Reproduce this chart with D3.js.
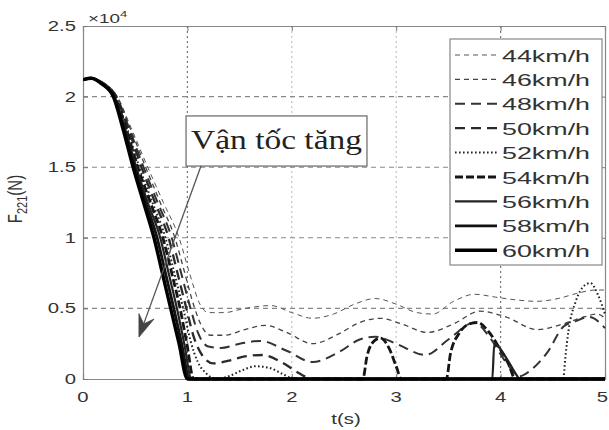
<!DOCTYPE html>
<html>
<head>
<meta charset="utf-8">
<script src="https://cdn.jsdelivr.net/npm/d3@7"></script>
<style>
  html, body { margin: 0; padding: 0; background: #fff; }
  svg { display: block; }
</style>
</head>
<body>
<svg id="chart" width="609" height="430"></svg>
<script>
// ---------------- DATA (values in N, t in s) ----------------
const legendLabels = ["44km/h","46km/h","48km/h","50km/h","52km/h","54km/h","56km/h","58km/h","60km/h"];
const xTicks = [0, 1, 2, 3, 4, 5];
const yTicks = [0, 5000, 10000, 15000, 20000, 25000];
const yTickLabels = ["0", "0.5", "1", "1.5", "2", "2.5"];

const s44 = [[0,21200],[0.08,21300],[0.18,21060],[0.33,20000],[0.46,17800],[0.62,15000],[0.77,12500],[0.92,10000],[1.02,7500],[1.12,5300],[1.2,4700],[1.35,4700],[1.55,5000],[1.8,5200],[2.0,4700],[2.2,4300],[2.4,4600],[2.6,5300],[2.8,5700],[3.0,5300],[3.2,4700],[3.35,4600],[3.55,5500],[3.75,6000],[3.95,5800],[4.15,5600],[4.35,5500],[4.55,5700],[4.75,6100],[4.9,6300],[5.0,6300]];
const s46 = [[0,21200],[0.08,21300],[0.18,21040],[0.325,20000],[0.45,17800],[0.6,15000],[0.74,12500],[0.88,10000],[0.975,7500],[1.07,5000],[1.14,3700],[1.22,3100],[1.35,3100],[1.55,3500],[1.75,3800],[1.95,3300],[2.2,2500],[2.45,3200],[2.65,4000],[2.85,4300],[3.05,3900],[3.3,3300],[3.55,3900],[3.8,4800],[4.05,4400],[4.35,3500],[4.6,3900],[4.8,4400],[4.93,4600],[5.0,4300]];
const s48 = [[0,21200],[0.08,21300],[0.18,21020],[0.32,20000],[0.44,17800],[0.58,15000],[0.715,12500],[0.85,10000],[0.94,7500],[1.03,5000],[1.1,3300],[1.2,2300],[1.32,2200],[1.5,2500],[1.7,2700],[1.95,2000],[2.2,1200],[2.45,1900],[2.65,2800],[2.8,3000],[3.0,2500],[3.28,1700],[3.5,2800],[3.75,4000],[3.9,2900],[4.05,1200],[4.18,200],[4.3,700],[4.45,1900],[4.6,3700],[4.72,4100],[4.85,4400],[5.0,3600]];
const s50 = [[0,21200],[0.08,21300],[0.18,21000],[0.315,20000],[0.43,17800],[0.56,15000],[0.69,12500],[0.82,10000],[0.905,7500],[0.99,5000],[1.06,3000],[1.14,1700],[1.25,1100],[1.4,1300],[1.55,1600],[1.72,1700],[1.9,1200],[2.05,500],[2.15,100],[2.2,0],[5.0,0]];
const s52 = [[0,21200],[0.08,21300],[0.18,20980],[0.31,20000],[0.42,17800],[0.54,15000],[0.665,12500],[0.79,10000],[0.875,7500],[0.96,5000],[1.03,2700],[1.1,1200],[1.18,400],[1.28,0],[1.4,200],[1.52,600],[1.65,900],[1.78,800],[1.9,400],[2.0,50],[2.05,0],[4.6,0],[4.62,1500],[4.65,3400],[4.72,5500],[4.8,6600],[4.86,6800],[4.93,6000],[5.0,4600]];
const s54 = [[0,21200],[0.08,21300],[0.18,20960],[0.305,20000],[0.41,17800],[0.525,15000],[0.645,12500],[0.765,10000],[0.85,7500],[0.93,5000],[0.995,2500],[1.06,0],[2.68,0],[2.72,1600],[2.79,2700],[2.85,2900],[2.93,2200],[3.0,900],[3.05,0],[3.48,0],[3.52,1800],[3.6,3200],[3.7,3900],[3.78,4000],[3.88,3400],[3.98,2300],[4.08,1000],[4.14,0],[5.0,0]];
const s56 = [[0,21200],[0.08,21300],[0.18,20940],[0.30,20000],[0.40,17800],[0.51,15000],[0.62,12500],[0.74,10000],[0.82,7500],[0.90,5000],[0.97,2500],[1.04,0],[3.92,0],[3.94,2500],[3.99,2200],[4.07,1300],[4.16,200],[4.18,0],[5.0,0]];
const s58 = [[0,21200],[0.08,21300],[0.18,20920],[0.295,20000],[0.39,17800],[0.495,15000],[0.6,12500],[0.71,10000],[0.79,7500],[0.87,5000],[0.945,2500],[1.02,0],[5.0,0]];
const s60 = [[0,21200],[0.08,21300],[0.18,20900],[0.29,20000],[0.38,17800],[0.48,15000],[0.58,12500],[0.68,10000],[0.76,7500],[0.84,5000],[0.92,2500],[1.0,0],[5.0,0]];

const seriesValues = [s44, s46, s48, s50, s52, s54, s56, s58, s60];

// annotation (data coordinates)
const annotText = "Vận tốc tăng";
const annotBox = { t0: 0.987, t1: 2.72, v0: 18630, v1: 15080 };
const annotArrow = { tFrom: 1.13, vFrom: 15080, tTo: 0.536, vTo: 2970 };

// ---------------- STYLES ----------------
const styles = [
  { color: "#555", width: 1.0, dash: "5,4" },
  { color: "#444", width: 1.3, dash: "5,4" },
  { color: "#333", width: 2.0, dash: "10,6" },
  { color: "#2a2a2a", width: 2.3, dash: "10,6" },
  { color: "#222", width: 2.0, dash: "1.6,2.4" },
  { color: "#151515", width: 2.8, dash: "8,3" },
  { color: "#222", width: 2.2, dash: null },
  { color: "#111", width: 2.8, dash: null },
  { color: "#000", width: 3.4, dash: null }
];

const SANS = "'Liberation Sans', Arial, Helvetica, sans-serif";
const SERIF = "'Liberation Serif', 'Times New Roman', serif";

// ---------------- LAYOUT ----------------
const svg = d3.select("#chart");
const L = 83, R = 605, T = 26, B = 379;
const x = d3.scaleLinear().domain([0, 5]).range([L, R]);
const y = d3.scaleLinear().domain([0, 25000]).range([B, T]);

function stretchText(g, str, px, py, size, sx, anchor, family, fill) {
  return g.append("text")
    .attr("transform", `translate(${px},${py}) scale(${sx},1)`)
    .attr("text-anchor", anchor)
    .attr("font-family", family || SANS)
    .attr("font-size", size)
    .attr("fill", fill || "#333")
    .text(str);
}

// gridlines
const grid = svg.append("g");
xTicks.filter(d => d > 0 && d < 5).forEach(d => {
  const dark = (d === 1 || d === 4);
  grid.append("line")
    .attr("x1", x(d)).attr("x2", x(d)).attr("y1", T).attr("y2", B)
    .attr("stroke", dark ? "#777" : "#b5b5b5")
    .attr("stroke-width", dark ? 1.2 : 1)
    .attr("stroke-dasharray", "2,3");
});
yTicks.filter(d => d > 0 && d < 25000).forEach(d => {
  grid.append("line")
    .attr("x1", L).attr("x2", R).attr("y1", y(d)).attr("y2", y(d))
    .attr("stroke", "#888").attr("stroke-width", 1.1)
    .attr("stroke-dasharray", "5,4");
});

// axes via d3 axes (ticks inward, labels drawn stretched)
const axB = svg.append("g").attr("transform", `translate(0,${B})`)
  .call(d3.axisBottom(x).tickValues(xTicks).tickSize(-5).tickFormat(""));
const axT = svg.append("g").attr("transform", `translate(0,${T})`)
  .call(d3.axisTop(x).tickValues(xTicks).tickSize(-5).tickFormat(""));
const axL = svg.append("g").attr("transform", `translate(${L},0)`)
  .call(d3.axisLeft(y).tickValues(yTicks).tickSize(-5).tickFormat(""));
const axR = svg.append("g").attr("transform", `translate(${R},0)`)
  .call(d3.axisRight(y).tickValues(yTicks).tickSize(-5).tickFormat(""));
[axB, axT, axL, axR].forEach(a => {
  a.select(".domain").attr("stroke", "#888").attr("stroke-width", 1.2);
  a.selectAll(".tick line").attr("stroke", "#777");
});

// tick labels
const labels = svg.append("g");
xTicks.forEach((d, i) => {
  if (i === xTicks.length - 1) {
    stretchText(labels, String(d), 608, 402, 14, 1.45, "end");
  } else {
    stretchText(labels, String(d), x(d), 402, 14, 1.45, "middle");
  }
});
yTicks.forEach((d, i) => stretchText(labels, yTickLabels[i], 76, y(d) + 5, 14, 1.45, "end"));

// exponent label ×10^4
const expo = labels.append("text")
  .attr("transform", `translate(88,23) scale(1.45,1)`)
  .attr("font-family", SANS).attr("font-size", 13).attr("fill", "#333");
expo.append("tspan").text("×10");
expo.append("tspan").attr("font-size", 9).attr("dy", -6).text("4");

// axis titles
stretchText(labels, "t(s)", (L + R) / 2 + 2, 424, 14, 1.45, "middle");
const ylab = labels.append("text")
  .attr("transform", `translate(22,199) scale(1.3,1) rotate(-90)`)
  .attr("text-anchor", "middle")
  .attr("font-family", SANS).attr("font-size", 15).attr("fill", "#333");
ylab.append("tspan").text("F");
ylab.append("tspan").attr("font-size", 11).attr("dy", 4).text("221");
ylab.append("tspan").attr("dy", -4).text("(N)");

// clip
svg.append("clipPath").attr("id", "plotClip")
  .append("rect").attr("x", L).attr("y", T - 2).attr("width", R - L + 1).attr("height", B - T + 4);

const line = d3.line()
  .x(d => x(d[0]))
  .y(d => y(d[1]))
  .curve(d3.curveMonotoneX);

const plot = svg.append("g").attr("clip-path", "url(#plotClip)");
seriesValues.forEach((vals, i) => {
  const st = styles[i];
  plot.append("path")
    .datum(vals)
    .attr("d", line)
    .attr("fill", "none")
    .attr("stroke", st.color)
    .attr("stroke-width", st.width)
    .attr("stroke-dasharray", st.dash)
    .attr("stroke-linejoin", "round");
});

// annotation box + arrow
const ann = svg.append("g");
const bx0 = x(annotBox.t0), bx1 = x(annotBox.t1), by0 = y(annotBox.v0), by1 = y(annotBox.v1);
ann.append("rect")
  .attr("x", bx0).attr("y", by0).attr("width", bx1 - bx0).attr("height", by1 - by0)
  .attr("fill", "#fff").attr("stroke", "#666").attr("stroke-width", 1.2);
ann.append("text")
  .attr("x", bx0 + 5).attr("y", by0 + 33)
  .attr("font-family", SERIF).attr("font-size", 28).attr("fill", "#222")
  .attr("textLength", bx1 - bx0 - 10).attr("lengthAdjust", "spacingAndGlyphs")
  .text(annotText);

const ax0 = x(annotArrow.tFrom), ay0 = y(annotArrow.vFrom);
const ax1 = x(annotArrow.tTo), ay1 = y(annotArrow.vTo);
const dx = ax1 - ax0, dy = ay1 - ay0, len = Math.hypot(dx, dy);
const ux = dx / len, uy = dy / len, nx = -uy, ny = ux;
const headL = 22, headW = 8, notch = 14;
ann.append("line")
  .attr("x1", ax0).attr("y1", ay0)
  .attr("x2", ax1 - ux * notch).attr("y2", ay1 - uy * notch)
  .attr("stroke", "#555").attr("stroke-width", 1.3);
ann.append("path")
  .attr("d", `M${ax1},${ay1} L${ax1 - ux * headL + nx * headW},${ay1 - uy * headL + ny * headW} L${ax1 - ux * notch},${ay1 - uy * notch} L${ax1 - ux * headL - nx * headW},${ay1 - uy * headL - ny * headW} Z`)
  .attr("fill", "#444").attr("stroke", "#444").attr("stroke-width", 0.8);

// legend
const lg = svg.append("g");
lg.append("rect").attr("x", 450).attr("y", 39).attr("width", 152).attr("height", 226)
  .attr("fill", "#fff").attr("stroke", "#888").attr("stroke-width", 1.2);
legendLabels.forEach((lab, i) => {
  const cy = 55 + i * 24.4;
  const st = styles[i];
  lg.append("line")
    .attr("x1", 455).attr("x2", 497).attr("y1", cy).attr("y2", cy)
    .attr("stroke", st.color).attr("stroke-width", st.width)
    .attr("stroke-dasharray", st.dash);
  stretchText(lg, lab, 502, cy + 6.5, 17, 1.58, "start");
});
</script>
</body>
</html>
